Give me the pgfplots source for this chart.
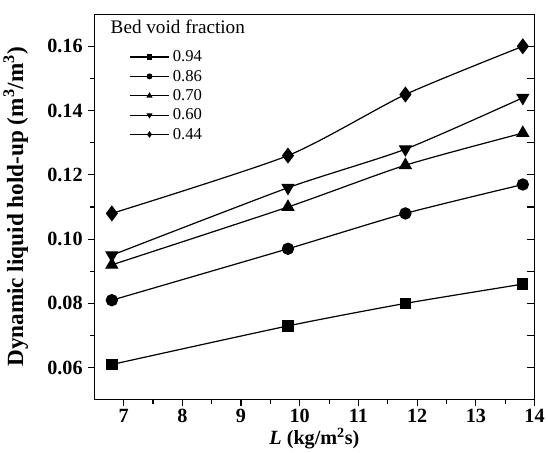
\documentclass[border=0pt]{standalone}
\usepackage{fontspec}
\setmainfont{Liberation Serif}
\usepackage{pgfplots}
\pgfplotsset{compat=1.18}

\pgfplotsset{
  base/.style={
    width=435bp, height=381bp, scale only axis,
    xmin=6.5, xmax=14, ymin=0.05, ymax=0.17,
  },
  ser/.style={black, line width=1.2bp, smooth, tension=0.4,
    mark options={solid, fill=black}},
}

\begin{document}
\begin{tikzpicture}
\begin{axis}[base,
  xtick={7,8,9,10,11,12,13,14}, minor x tick num=1,
  xticklabels={\textbf{7},\textbf{8},\textbf{9},\textbf{10},\textbf{11},
    \textbf{12},\textbf{13},\textbf{14}},
  ytick={0.06,0.08,0.10,0.12,0.14,0.16}, minor y tick num=1,
  yticklabels={\textbf{0.06},\textbf{0.08},\textbf{0.10},\textbf{0.12},
    \textbf{0.14},\textbf{0.16}},
  ticklabel style={font=\fontsize{20}{20}\selectfont\bfseries},
  yticklabel style={xshift=-2bp},
  tick align=outside, xtick pos=bottom, ytick pos=left,
  major tick length=6bp, minor tick length=4bp,
  axis line style={line width=1.2bp},
  every tick/.style={black, line width=1.1bp},
  xlabel={\textbf{\textit{L} (kg/m\textsuperscript{2}s)}},
  ylabel={\textbf{Dynamic liquid hold-up (m\textsuperscript{3}/m\textsuperscript{3})}},
  xlabel style={font=\fontsize{20}{20}\selectfont, yshift=2bp},
  ylabel style={font=\fontsize{23}{23}\selectfont, yshift=12bp},
  legend style={at={(rel axis cs:0.08,0.907)}, anchor=north west,
    draw=none, fill=none, font=\fontsize{16.5}{16.5}\selectfont,
    row sep=5.7bp, inner sep=0pt,
    nodes={inner xsep=3.5bp, inner ysep=0.5bp}},
  legend cell align=left,
  legend image code/.code={
    \draw[mark repeat=2, mark phase=2, mark size=2.3bp]
      plot coordinates {(0bp,0bp) (19bp,0bp) (38bp,0bp)};
  },
]
\addplot[ser, mark=square*, mark size=5bp]
  coordinates {(6.8,0.061) (9.8,0.073) (11.8,0.080) (13.8,0.086)};
\addlegendentry{0.94}
\addplot[ser, mark=*, mark size=5.5bp]
  coordinates {(6.8,0.081) (9.8,0.097) (11.8,0.108) (13.8,0.117)};
\addlegendentry{0.86}
\addplot[ser, mark=triangle*, mark size=6.5bp]
  coordinates {(6.8,0.092) (9.8,0.110) (11.8,0.123) (13.8,0.133)};
\addlegendentry{0.70}
\addplot[ser, mark=triangle*, mark size=6.5bp, mark options={rotate=180}]
  coordinates {(6.8,0.095) (9.8,0.116) (11.8,0.128) (13.8,0.144)};
\addlegendentry{0.60}
\addplot[ser, mark=diamond*, mark size=7bp]
  coordinates {(6.8,0.108) (9.8,0.126) (11.8,0.145) (13.8,0.160)};
\addlegendentry{0.44}
\node[anchor=north west, font=\fontsize{19}{19}\selectfont, inner sep=0pt]
  at (rel axis cs:0.037,0.985) {Bed void fraction};
\end{axis}
\begin{axis}[base,
  hide x axis, axis y line*=right,
  ytick={0.06,0.08,0.10,0.12,0.14,0.16}, minor y tick num=1,
  yticklabels={}, tick align=inside,
  major tick length=7bp, minor tick length=7bp,
  axis line style={line width=1.2bp},
  every tick/.style={black, line width=1.1bp},
]
\end{axis}
\path ([yshift=14bp]current axis.north);
\end{tikzpicture}
\end{document}
